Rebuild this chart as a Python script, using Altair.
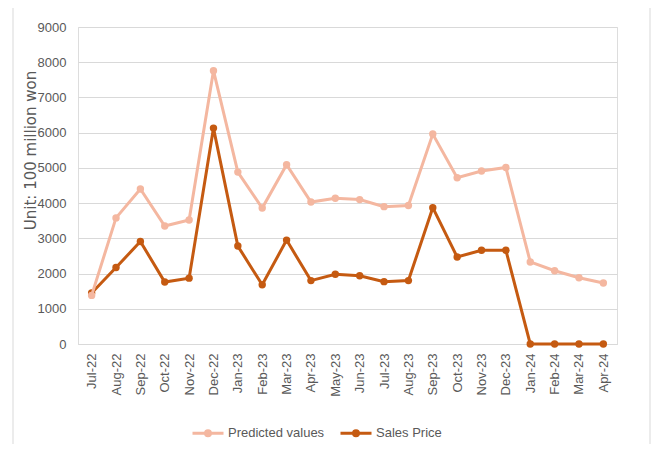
import altair as alt
import pandas as pd

months = ["Jul-22", "Aug-22", "Sep-22", "Oct-22", "Nov-22", "Dec-22", "Jan-23", "Feb-23",
          "Mar-23", "Apr-23", "May-23", "Jun-23", "Jul-23", "Aug-23", "Sep-23", "Oct-23",
          "Nov-23", "Dec-23", "Jan-24", "Feb-24", "Mar-24", "Apr-24"]
predicted = [1380, 3580, 4400, 3350, 3520, 7760, 4880, 3860, 5090, 4030, 4140, 4100,
             3900, 3930, 5960, 4720, 4910, 5010, 2330, 2080, 1880, 1730]
sales = [1450, 2170, 2910, 1760, 1870, 6130, 2780, 1680, 2950, 1800, 1980, 1940,
         1770, 1800, 3870, 2470, 2660, 2660, 0, 0, 0, 0]
series_names = ["Predicted values", "Sales Price"]
series_colors = ["#F4B7A0", "#C55A11"]
y_ticks = [0, 1000, 2000, 3000, 4000, 5000, 6000, 7000, 8000, 9000]

df = pd.concat([
    pd.DataFrame({"month": months, "value": predicted, "series": series_names[0]}),
    pd.DataFrame({"month": months, "value": sales, "series": series_names[1]}),
])

FONT = "Liberation Sans"
GRAY = "#595959"

legend_path = ("M -1 0 L 1 0 "
               "M 0.16 0 A 0.16 0.16 0 1 1 -0.16 0 A 0.16 0.16 0 1 1 0.16 0 "
               "M 0.06 0 A 0.06 0.06 0 1 1 -0.06 0 A 0.06 0.06 0 1 1 0.06 0")

color = alt.Color(
    "series:N",
    scale=alt.Scale(domain=series_names, range=series_colors),
    legend=alt.Legend(
        title=None, orient="none", direction="horizontal", legendX=113, legendY=389,
        symbolType=legend_path, symbolSize=961, symbolStrokeWidth=3,
        labelFont=FONT, labelFontSize=13, labelColor=GRAY, labelOffset=3,
        columnPadding=9,
    ),
)

x = alt.X("month:N", sort=months, scale=alt.Scale(type="point", padding=0.56),
          axis=alt.Axis(title=None, labelAngle=270, labelAlign="right", labelBaseline="middle",
                        labelPadding=9, ticks=False, domainColor="#d9d9d9", domainWidth=1,
                        labelFont=FONT, labelFontSize=13, labelColor=GRAY, grid=False))
y = alt.Y("value:Q", scale=alt.Scale(domain=[0, 9000], nice=False),
          axis=alt.Axis(values=y_ticks, format="d", title="Unit: 100 million won",
                        titleFont="DejaVu Sans", titleFontSize=15, titleFontWeight="normal",
                        titleColor=GRAY, titleAngle=270, titleX=-48, titleY=123,
                        titleBaseline="middle", titleAlign="center",
                        labelFont=FONT, labelFontSize=13, labelColor=GRAY, labelPadding=12,
                        ticks=False, domain=False, gridColor="#d9d9d9", gridWidth=1))

base = alt.Chart(df)
sales_layer = base.transform_filter(alt.datum.series == series_names[1]).mark_line(
    strokeWidth=3, point=alt.OverlayMarkDef(size=55, filled=True)
).encode(x=x, y=y, color=color)
pred_layer = base.transform_filter(alt.datum.series == series_names[0]).mark_line(
    strokeWidth=3, point=alt.OverlayMarkDef(size=55, filled=True)
).encode(x=x, y=y, color=color)

border = alt.Chart(pd.DataFrame({"a": [0]})).mark_rect(
    fill="transparent", stroke="#d9d9d9", strokeWidth=1
).encode(x=alt.value(-65), x2=alt.value(572), y=alt.value(-22), y2=alt.value(460))

chart = alt.layer(border, sales_layer, pred_layer).properties(
    width=539, height=317,
    autosize=alt.AutoSizeParams(type="none"),
    padding={"left": 70, "top": 19, "right": 34, "bottom": 100},
).configure_view(stroke=None).configure(background="white")

chart.save("out.html", embed_options={"renderer": "svg", "actions": False})
